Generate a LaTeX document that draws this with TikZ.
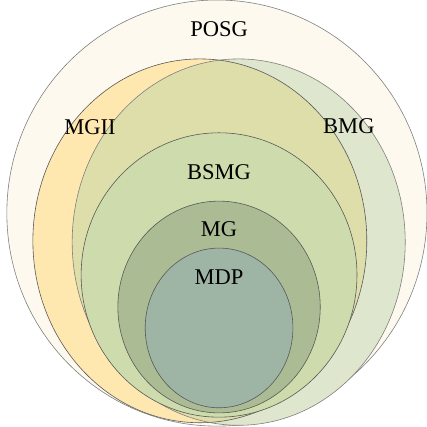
\documentclass[tikz,border=0pt]{standalone}
\usepackage{fontspec}
\setmainfont{Liberation Serif}

\definecolor{posgfill}{HTML}{FEF9EF}
\definecolor{mgiifill}{HTML}{FFE8B0}
\definecolor{bmgfill}{HTML}{DEE6CD}
\definecolor{bothfill}{HTML}{DDDEAA}
\definecolor{bsmgfill}{HTML}{CEDCAD}
\definecolor{mgfill}{HTML}{ABBB94}
\definecolor{mdpfill}{HTML}{9EB4A5}

\begin{document}
\begin{tikzpicture}[setline/.style={draw=black!65, line width=0.4pt},
                    setlabel/.style={font=\fontsize{15}{18}\selectfont}]

	  \useasboundingbox (0,0) rectangle (10,10);

	  %----------------------------------------------------------------
	  \draw [setline, draw=black!50, fill=posgfill] (5.08,5.01) ellipse (4.92cm and 4.99cm);

	  %----------------------------------------------------------------
	  \fill [mgiifill] (4.68,4.36) ellipse (3.91cm and 4.26cm);
	  \fill [bmgfill] (5.59,4.33) ellipse (3.90cm and 4.29cm);
	  \begin{scope}
	    \clip (4.68,4.36) ellipse (3.91cm and 4.26cm);
	    \fill [bothfill] (5.59,4.33) ellipse (3.90cm and 4.29cm);
	  \end{scope}
	  \draw [setline] (4.68,4.36) ellipse (3.91cm and 4.26cm);
	  \draw [setline, draw=black!50] (5.59,4.33) ellipse (3.90cm and 4.29cm);

	  %----------------------------------------------------------------
	  \draw [setline, fill=bsmgfill] (5.13,3.56) ellipse (3.23cm and 3.33cm);
	  \draw [setline, fill=mgfill] (5.13,2.81) ellipse (2.37cm and 2.48cm);
	  \draw [setline, fill=mdpfill] (5.13,2.32) ellipse (1.73cm and 1.87cm);

	  \node [setlabel] (posg) at (5.13,9.32) {POSG};
	  \node [setlabel] (mgii) at (2.11,7.03) {MGII};
	  \node [setlabel] (bmg) at (8.17,7.05) {BMG};
	  \node [setlabel] (bsmg) at (5.13,5.97) {BSMG};
	  \node [setlabel] (mg) at (5.13,4.64) {MG};
	  \node [setlabel] (mdp) at (5.13,3.51) {MDP};

\end{tikzpicture}
\end{document}
